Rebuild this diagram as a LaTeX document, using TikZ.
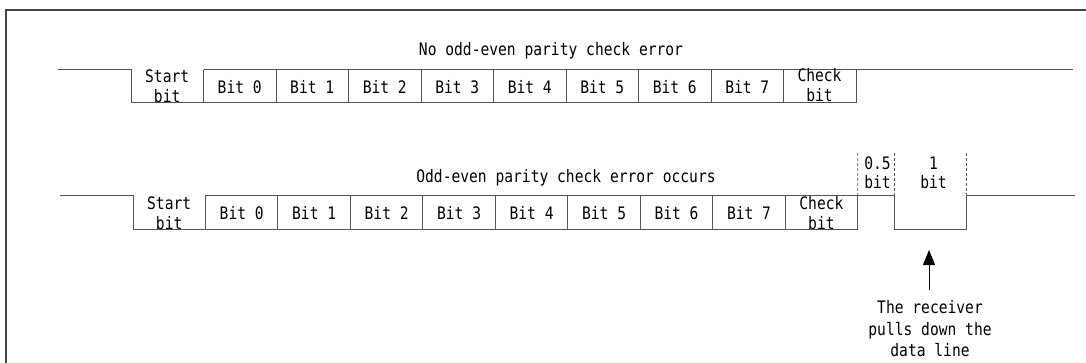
\documentclass[tikz,border=0pt]{standalone}
\usepackage{fontspec}
\usetikzlibrary{arrows.meta}
\newfontfamily\diagmono[FakeStretch=0.85]{DejaVu Sans Mono}
\definecolor{wave}{HTML}{555555}
\definecolor{frame}{HTML}{444444}
\begin{document}
\begin{tikzpicture}[x=1pt,y=-1pt,
  wavel/.style={draw=wave,line width=1pt},
  dashl/.style={draw=wave,line width=0.8pt,dash pattern=on 3pt off 2pt},
  lbl/.style={font=\diagmono\fontsize{17.2}{20}\selectfont,inner sep=0pt,anchor=base,text=black},
  lbl2/.style={lbl,align=center},
  frm/.style={draw=frame,line width=2pt}]
\useasboundingbox (0,0) rectangle (1086,363);
\draw[frm] (6,400) -- (6,10) -- (1100,10);
% ---------------- row 1 ----------------
\coordinate (r1s) at (58,70);
\coordinate (r1e) at (1073,70);
\foreach \i in {0,...,10} {
  \coordinate (a\i t) at ({131+72.5*\i},70);
  \coordinate (a\i b) at ({131+72.5*\i},103);
}
\draw[wavel] (r1s) -- (a0t) -- (a0b) -- (a10b) -- (a10t) -- (r1e);
\draw[wavel] (a1t) -- (a10t);
\foreach \i in {1,...,9} \draw[wavel] (a\i t) -- (a\i b);
\node[lbl] (t1) at (551,55.7) {No odd-even parity check error};
\node[lbl2] (s1) at (167.2,102.7) {Start\\bit};
\foreach \n in {0,...,7} {
  \node[lbl] (b1\n) at ({131+72.5*(\n+1)+36.25},93.3) {Bit \n};
}
\node[lbl2] (c1) at (819.5,101.7) {Check\\bit};
% ---------------- row 2 ----------------
\coordinate (r2s) at (60,196);
\coordinate (r2e) at (1075,196);
\foreach \i in {0,...,10} {
  \coordinate (b\i t) at ({133+72.47*\i},196);
  \coordinate (b\i b) at ({133+72.47*\i},230);
}
\coordinate (h1t) at (894,196);
\coordinate (h1b) at (894,230);
\coordinate (h2t) at (966.7,196);
\coordinate (h2b) at (966.7,230);
\draw[wavel] (r2s) -- (b0t) -- (b0b) -- (b10b) -- (b10t) -- (h1t) -- (h1b) -- (h2b) -- (h2t) -- (r2e);
\draw[wavel] (b1t) -- (b10t);
\foreach \i in {1,...,9} \draw[wavel] (b\i t) -- (b\i b);
\coordinate (d0) at (857.7,153);
\coordinate (d1) at (894,153);
\coordinate (d2) at (966.7,153);
\draw[dashl] (d0) -- (b10t);
\draw[dashl] (d1) -- (h1t);
\draw[dashl] (d2) -- (h2t);
\node[lbl] (t2) at (566,182.7) {Odd-even parity check error occurs};
\node[lbl2] (s2) at (169.2,229.3) {Start\\bit};
\foreach \n in {0,...,7} {
  \node[lbl] (b2\n) at ({133+72.47*(\n+1)+36.24},219.3) {Bit \n};
}
\node[lbl2] (c2) at (821.4,229.3) {Check\\bit};
\node[lbl2,font=\diagmono\fontsize{17.2}{18.3}\selectfont] (half) at (877.5,188.3) {0.5\\bit};
\node[lbl2,font=\diagmono\fontsize{17.2}{18.3}\selectfont] (one) at (933.5,188.3) {1\\bit};
% ---------------- arrow + note ----------------
\node[lbl2,font=\diagmono\fontsize{17.2}{21.4}\selectfont] (note) at (930,356.7) {The receiver\\pulls down the\\data line};
\coordinate (arrtop) at (929,250);
\draw[draw=black,line width=1pt,-{Triangle[length=15pt,width=12pt]}] (929,290) -- (arrtop);
\end{tikzpicture}
\end{document}
